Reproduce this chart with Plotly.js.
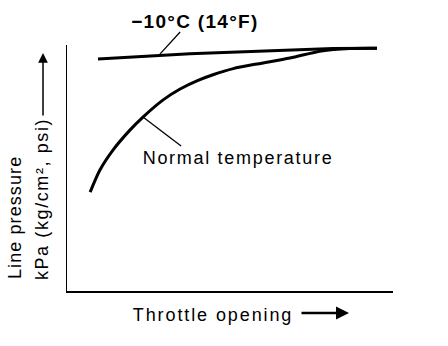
<!DOCTYPE html>
<html>
<head>
<meta charset="utf-8">
<script src="https://cdn.plot.ly/plotly-3.0.1.min.js"></script>
<style>
html,body{margin:0;padding:0;background:#fff;}
#chart{width:448px;height:346px;}
.annotation[data-index="0"] .annotation-text{letter-spacing:1.3px;}
.annotation[data-index="1"] .annotation-text{letter-spacing:1.7px;}
.annotation[data-index="2"] .annotation-text{letter-spacing:1.9px;}
.annotation[data-index="3"] .annotation-text{letter-spacing:1.1px;}
.annotation[data-index="4"] .annotation-text{letter-spacing:1.6px;}
</style>
</head>
<body>
<div id="chart"></div>
<script>
// Throttle opening (% of axis) and line pressure (% of axis)
const coldX = [9.5, 37.7, 81.6, 95.1];
const coldY = [94.3, 96.4, 98.6, 98.7];
const normalX = [7.1, 10.1, 14.1, 19.3, 23.3, 29.4, 34.7, 40.2, 45.0, 51.0, 58.3, 68.4, 78.0, 86.8, 95.1];
const normalY = [40.2, 49.2, 57.3, 65.4, 70.7, 77.6, 82.1, 85.6, 88.0, 90.4, 92.3, 94.7, 97.6, 98.6, 98.7];
const coldLabel = "−10°C (14°F)";
const normalLabel = "Normal temperature";
const xLabel = "Throttle opening";
const yLabel1 = "Line pressure";
const yLabel2 = "kPa (kg/cm², psi)";

const font = "Liberation Sans, Arial, sans-serif";
const traces = [
  {x: coldX, y: coldY, mode: 'lines', line: {color: '#000', width: 3}, hoverinfo: 'skip'},
  {x: normalX, y: normalY, mode: 'lines', line: {color: '#000', width: 3, shape: 'spline', smoothing: 0.8}, hoverinfo: 'skip'}
];
const layout = {
  width: 448, height: 346,
  margin: {l: 67, r: 55, t: 45, b: 55},
  paper_bgcolor: '#fff', plot_bgcolor: '#fff',
  showlegend: false,
  xaxis: {range: [0, 100], showline: true, linecolor: '#000', linewidth: 1.5,
          showgrid: false, zeroline: false, showticklabels: false, ticks: ''},
  yaxis: {range: [0, 100], showline: true, linecolor: '#000', linewidth: 1.5,
          showgrid: false, zeroline: false, showticklabels: false, ticks: ''},
  shapes: [
    {type: 'line', xref: 'paper', yref: 'paper', x0: 0.285, y0: 0.963, x1: 0.347, y1: 1.053,
     line: {color: '#000', width: 1.3}},
    {type: 'line', xref: 'paper', yref: 'paper', x0: 0.233, y0: 0.707, x1: 0.350, y1: 0.589,
     line: {color: '#000', width: 1.3}}
  ],
  annotations: [
    {text: '<b>' + coldLabel + '</b>', xref: 'paper', yref: 'paper', x: 0.393, y: 1.095,
     xanchor: 'center', yanchor: 'middle', showarrow: false, font: {family: font, size: 19, color: '#000'}},
    {text: normalLabel, xref: 'paper', yref: 'paper', x: 0.274, y: 0.541,
     xanchor: 'left', yanchor: 'middle', showarrow: false, font: {family: font, size: 18, color: '#000'}},
    {text: xLabel, xref: 'paper', yref: 'paper', x: 0.242, y: -0.0976,
     xanchor: 'left', yanchor: 'middle', showarrow: false, font: {family: font, size: 18, color: '#000'}},
    {text: yLabel1, xref: 'paper', yref: 'paper', x: -0.1595, y: 0.297, textangle: -90,
     xanchor: 'center', yanchor: 'middle', showarrow: false, font: {family: font, size: 18, color: '#000'}},
    {text: yLabel2, xref: 'paper', yref: 'paper', x: -0.0767, y: 0.376, textangle: -90,
     xanchor: 'center', yanchor: 'middle', showarrow: false, font: {family: font, size: 18, color: '#000'}},
    {text: '', xref: 'paper', yref: 'paper', x: -0.0736, y: 0.967, ax: 0, ay: 64,
     showarrow: true, arrowhead: 2, arrowsize: 1.3, arrowwidth: 1.5, arrowcolor: '#000'},
    {text: '', xref: 'paper', yref: 'paper', x: 0.865, y: -0.0894, ax: -49, ay: 0,
     showarrow: true, arrowhead: 2, arrowsize: 1, arrowwidth: 2.6, arrowcolor: '#000'}
  ]
};
Plotly.newPlot('chart', traces, layout, {staticPlot: true, displayModeBar: false});
</script>
</body>
</html>
